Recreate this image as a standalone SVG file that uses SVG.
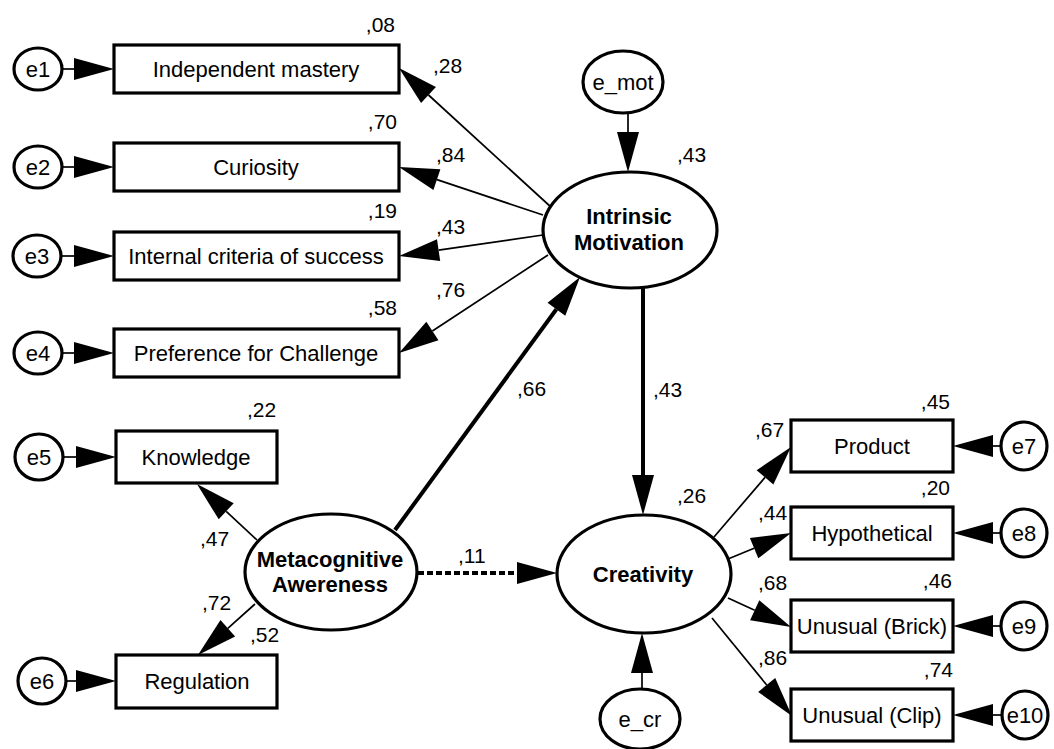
<svg xmlns="http://www.w3.org/2000/svg" width="1054" height="749" viewBox="0 0 1054 749">
<style>
text{font-family:"Liberation Sans",Arial,sans-serif;fill:#000}
.lbl{font-size:22px;text-anchor:middle}
.lat{font-size:22px;font-weight:bold;text-anchor:middle}
.num{font-size:21px}
.numr{font-size:21px;text-anchor:end}
.box{fill:#fff;stroke:#000;stroke-width:3.2}
.ell{fill:#fff;stroke:#000;stroke-width:3.2}
.thin{stroke:#000;stroke-width:1.7;fill:none}
.thick{stroke:#000;stroke-width:4;fill:none}
.dash{stroke:#000;stroke-width:4;fill:none;stroke-dasharray:6 3}
</style>
<defs>
<marker id="ah" markerUnits="userSpaceOnUse" markerWidth="41" markerHeight="24" viewBox="0 -12 41 24" refX="0" refY="0" orient="auto" overflow="visible">
<path d="M0,-11 L40,0 L0,11 z" fill="#000"/>
</marker>
</defs>
<rect width="1054" height="749" fill="#fff"/>

<g id="connectors">
<line class="thin" x1="62" y1="69" x2="74" y2="69" marker-end="url(#ah)"/>
<line class="thin" x1="62" y1="167" x2="74" y2="167" marker-end="url(#ah)"/>
<line class="thin" x1="61" y1="256" x2="74" y2="256" marker-end="url(#ah)"/>
<line class="thin" x1="62" y1="353" x2="74" y2="353" marker-end="url(#ah)"/>
<line class="thin" x1="63" y1="457" x2="76" y2="457" marker-end="url(#ah)"/>
<line class="thin" x1="66" y1="681" x2="76" y2="681" marker-end="url(#ah)"/>
<line class="thin" x1="1001" y1="446" x2="993" y2="446" marker-end="url(#ah)"/>
<line class="thin" x1="1001" y1="533" x2="993" y2="533" marker-end="url(#ah)"/>
<line class="thin" x1="1001" y1="626" x2="993" y2="626" marker-end="url(#ah)"/>
<line class="thin" x1="1002" y1="715" x2="993" y2="715" marker-end="url(#ah)"/>
<line class="thin" x1="628" y1="113" x2="628" y2="132" marker-end="url(#ah)"/>
<line class="thin" x1="552" y1="208" x2="428.5" y2="95" marker-end="url(#ah)"/>
<line class="thin" x1="543" y1="215" x2="436.9" y2="179.6" marker-end="url(#ah)"/>
<line class="thin" x1="543" y1="235" x2="438.6" y2="250.2" marker-end="url(#ah)"/>
<line class="thin" x1="548" y1="255" x2="432.4" y2="331" marker-end="url(#ah)"/>
<line class="thick" x1="643" y1="288" x2="643" y2="475" marker-end="url(#ah)"/>
<line class="thick" x1="395" y1="530" x2="556.4" y2="309.3" marker-end="url(#ah)"/>
<line class="thin" x1="257" y1="540" x2="226.2" y2="511.3" marker-end="url(#ah)"/>
<line class="thin" x1="255" y1="604" x2="227.8" y2="628.3" marker-end="url(#ah)"/>
<line class="dash" x1="418" y1="573" x2="517" y2="573" marker-end="url(#ah)"/>
<line class="thin" x1="714" y1="537" x2="765" y2="477.4" marker-end="url(#ah)"/>
<line class="thin" x1="728" y1="559" x2="754.1" y2="548.2" marker-end="url(#ah)"/>
<line class="thin" x1="728" y1="598" x2="754.7" y2="610.3" marker-end="url(#ah)"/>
<line class="thin" x1="712" y1="618" x2="766.7" y2="685" marker-end="url(#ah)"/>
<line class="thin" x1="642" y1="689" x2="642" y2="673" marker-end="url(#ah)"/>
</g>

<g id="labels">
<text class="numr" x="395" y="32">,08</text>
<text class="numr" x="397" y="129">,70</text>
<text class="numr" x="397" y="218">,19</text>
<text class="numr" x="397" y="315">,58</text>
<text class="num" x="433" y="73">,28</text>
<text class="num" x="436" y="162">,84</text>
<text class="num" x="436" y="234">,43</text>
<text class="num" x="436" y="297">,76</text>
<text class="num" x="677" y="162">,43</text>
<text class="num" x="517" y="396">,66</text>
<text class="num" x="653" y="397">,43</text>
<text class="num" x="677" y="503">,26</text>
<text class="num" x="458" y="563">,11</text>
<text class="num" x="247" y="417">,22</text>
<text class="num" x="200" y="546">,47</text>
<text class="num" x="202" y="610">,72</text>
<text class="num" x="250" y="642">,52</text>
<text class="numr" x="950" y="409">,45</text>
<text class="num" x="755" y="437">,67</text>
<text class="numr" x="950" y="495">,20</text>
<text class="num" x="758" y="520">,44</text>
<text class="num" x="758" y="590">,68</text>
<text class="numr" x="952" y="588">,46</text>
<text class="num" x="758" y="665">,86</text>
<text class="numr" x="953" y="677">,74</text>
</g>

<g id="e1"><ellipse class="ell" cx="38" cy="69" rx="24" ry="21"/><text class="lbl" x="38" y="77">e1</text></g>
<g id="e2"><ellipse class="ell" cx="38" cy="167" rx="24" ry="21"/><text class="lbl" x="38" y="175">e2</text></g>
<g id="e3"><ellipse class="ell" cx="37" cy="256" rx="24" ry="21"/><text class="lbl" x="37" y="264">e3</text></g>
<g id="e4"><ellipse class="ell" cx="38" cy="353" rx="24" ry="21"/><text class="lbl" x="38" y="361">e4</text></g>
<g id="e5"><ellipse class="ell" cx="39" cy="457" rx="24" ry="23"/><text class="lbl" x="39" y="465">e5</text></g>
<g id="e6"><ellipse class="ell" cx="42" cy="681" rx="24" ry="23"/><text class="lbl" x="42" y="689">e6</text></g>

<g id="independent-mastery"><rect class="box" x="114" y="45" width="285" height="48"/><text class="lbl" x="256" y="77">Independent mastery</text></g>
<g id="curiosity"><rect class="box" x="114" y="143" width="285" height="48"/><text class="lbl" x="256" y="175">Curiosity</text></g>
<g id="internal-criteria"><rect class="box" x="114" y="232" width="285" height="48"/><text class="lbl" x="256" y="264">Internal criteria of success</text></g>
<g id="preference-challenge"><rect class="box" x="114" y="329" width="285" height="48"/><text class="lbl" x="256" y="361">Preference for Challenge</text></g>
<g id="knowledge"><rect class="box" x="116" y="431" width="161" height="52"/><text class="lbl" x="196" y="465">Knowledge</text></g>
<g id="regulation"><rect class="box" x="116" y="655" width="161" height="53"/><text class="lbl" x="197" y="689">Regulation</text></g>

<g id="e_mot"><ellipse class="ell" cx="623" cy="82" rx="40" ry="31"/><text class="lbl" x="623" y="90">e_mot</text></g>
<g id="intrinsic-motivation"><ellipse class="ell" cx="630" cy="230" rx="87" ry="58"/><text class="lat" x="629" y="224">Intrinsic</text><text class="lat" x="629" y="250">Motivation</text></g>
<g id="metacognitive-awereness"><ellipse class="ell" cx="331" cy="572" rx="86" ry="58"/><text class="lat" x="330" y="567">Metacognitive</text><text class="lat" x="330" y="592">Awereness</text></g>
<g id="creativity"><ellipse class="ell" cx="644" cy="574" rx="87" ry="59"/><text class="lat" x="643" y="582">Creativity</text></g>
<g id="e_cr"><ellipse class="ell" cx="640" cy="719" rx="40" ry="30"/><text class="lbl" x="640" y="727">e_cr</text></g>

<g id="product"><rect class="box" x="791" y="420" width="162" height="52"/><text class="lbl" x="872" y="454">Product</text></g>
<g id="hypothetical"><rect class="box" x="791" y="507" width="162" height="52"/><text class="lbl" x="872" y="541">Hypothetical</text></g>
<g id="unusual-brick"><rect class="box" x="791" y="600" width="162" height="52"/><text class="lbl" x="872" y="634">Unusual (Brick)</text></g>
<g id="unusual-clip"><rect class="box" x="791" y="689" width="162" height="52"/><text class="lbl" x="872" y="723">Unusual (Clip)</text></g>

<g id="e7"><ellipse class="ell" cx="1024" cy="446" rx="23" ry="24"/><text class="lbl" x="1024" y="454">e7</text></g>
<g id="e8"><ellipse class="ell" cx="1024" cy="533" rx="23" ry="24"/><text class="lbl" x="1024" y="541">e8</text></g>
<g id="e9"><ellipse class="ell" cx="1024" cy="626" rx="23" ry="24"/><text class="lbl" x="1024" y="634">e9</text></g>
<g id="e10"><ellipse class="ell" cx="1025" cy="715" rx="23" ry="24"/><text class="lbl" x="1025" y="723">e10</text></g>
</svg>
